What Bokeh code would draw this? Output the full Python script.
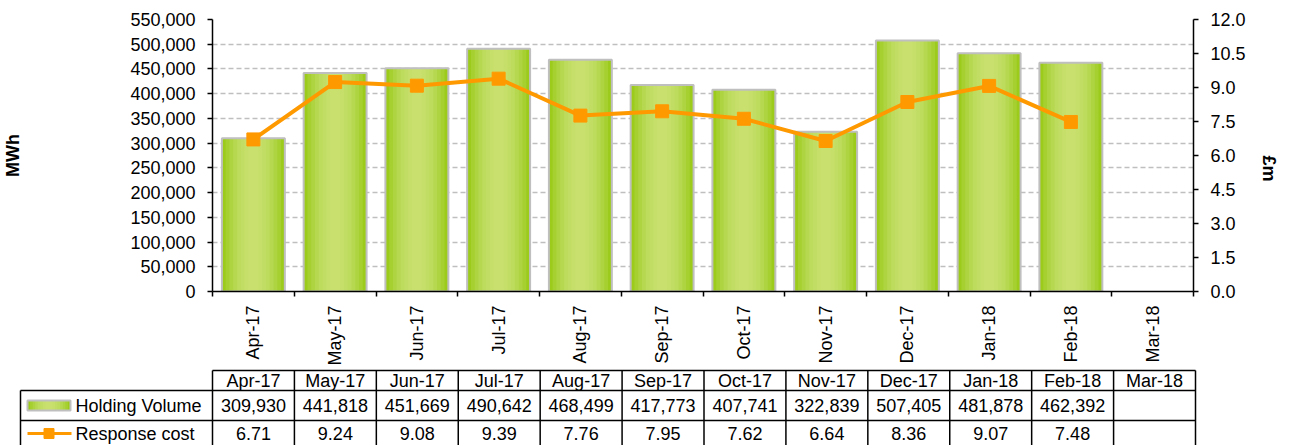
import numpy as np
from bokeh.plotting import figure
from bokeh.models import Range1d, LinearAxis, FixedTicker, NumeralTickFormatter, Grid, ColumnDataSource
from bokeh.core.properties import value
from bokeh.embed import file_html
from bokeh.resources import INLINE

# ---------------- data ----------------
months = ["Apr-17", "May-17", "Jun-17", "Jul-17", "Aug-17", "Sep-17",
          "Oct-17", "Nov-17", "Dec-17", "Jan-18", "Feb-18", "Mar-18"]
holding_volume = [309930, 441818, 451669, 490642, 468499, 417773,
                  407741, 322839, 507405, 481878, 462392, None]
response_cost = [6.71, 9.24, 9.08, 9.39, 7.76, 7.95,
                 7.62, 6.64, 8.36, 9.07, 7.48, None]
mwh_ticks = [0, 50000, 100000, 150000, 200000, 250000, 300000,
             350000, 400000, 450000, 500000, 550000]
cost_ticks = [0.0, 1.5, 3.0, 4.5, 6.0, 7.5, 9.0, 10.5, 12.0]
series_names = ["Holding Volume", "Response cost"]

# ---------------- style ----------------
FONT = "Liberation Sans"
FS = "18px"
W = 1291
TOP_H = 368
FL, FR, FT, FB = 212, 96, 19, 77
ORANGE = "#FF9900"
BORDER = "#BFBFBF"
grad = [(1.00, "#9CCB1C"), (0.88, "#A5D02F"), (0.76, "#AED442"), (0.64, "#B6D851"),
        (0.52, "#BDDB5C"), (0.40, "#C2DD64"), (0.28, "#C6DF6A"), (0.16, "#C9E06F")]
BAR_W = 0.77

n = len(months)
centers = [i + 0.5 for i in range(n)]
bounds = list(range(n + 1))

bar_x = [c for c, v in zip(centers, holding_volume) if v is not None]
bar_top = [v for v in holding_volume if v is not None]
line_x = [c for c, v in zip(centers, response_cost) if v is not None]
line_y = [v for v in response_cost if v is not None]

# ---------------- main chart ----------------
p = figure(width=W, height=TOP_H, x_range=Range1d(0, n), y_range=Range1d(mwh_ticks[0], mwh_ticks[-1]),
           output_backend="svg", toolbar_location=None,
           min_border_left=FL, min_border_right=FR, min_border_top=FT, min_border_bottom=FB,
           x_axis_type=None, y_axis_type=None, outline_line_color=None)
p.extra_y_ranges = {"cost": Range1d(cost_ticks[0], cost_ticks[-1])}

axis_common = dict(axis_line_color="black", axis_line_width=1.5,
                   major_tick_line_color="black", major_tick_line_width=1.5,
                   minor_tick_line_color="black", minor_tick_line_width=1.5,
                   major_label_text_font=FONT, major_label_text_font_size=FS,
                   major_label_text_color="black",
                   axis_label_text_font=FONT, axis_label_text_font_size=FS,
                   axis_label_text_font_style="bold", axis_label_text_color="black")

yl = LinearAxis(ticker=FixedTicker(ticks=mwh_ticks), formatter=NumeralTickFormatter(format="0,0"),
                axis_label="MWh", axis_label_standoff=104,
                major_tick_out=5, major_tick_in=0, minor_tick_out=0, minor_tick_in=0,
                major_label_standoff=12, **axis_common)
p.add_layout(yl, "left")

yr = LinearAxis(y_range_name="cost", ticker=FixedTicker(ticks=cost_ticks),
                formatter=NumeralTickFormatter(format="0.0"),
                axis_label="£m", axis_label_standoff=20, axis_label_orientation=-np.pi / 2,
                major_tick_out=5, major_tick_in=0, minor_tick_out=0, minor_tick_in=0,
                major_label_standoff=12, **axis_common)
p.add_layout(yr, "right")

xb = LinearAxis(ticker=FixedTicker(ticks=centers, minor_ticks=bounds),
                major_label_overrides={c: m for c, m in zip(centers, months)},
                major_label_orientation=np.pi / 2,
                major_tick_out=0, major_tick_in=0, minor_tick_out=5, minor_tick_in=0,
                major_label_standoff=9, **axis_common)
p.add_layout(xb, "below")

p.add_layout(Grid(dimension=1, ticker=FixedTicker(ticks=mwh_ticks[1:]),
                  grid_line_color=BORDER, grid_line_dash="5 3", grid_line_width=1.5))

src = ColumnDataSource(dict(x=bar_x, top=bar_top))
for f, col in grad:
    p.vbar(x="x", top="top", bottom=0, width=BAR_W * f, source=src,
           fill_color=col, line_color=None)
p.vbar(x="x", top="top", bottom=0, width=BAR_W, source=src,
       fill_color=None, line_color=BORDER, line_width=2)

p.line(line_x, line_y, y_range_name="cost", line_color=ORANGE, line_width=4)
p.scatter(line_x, line_y, y_range_name="cost", marker="square", size=13,
          fill_color=ORANGE, line_color=ORANGE)

# ---------------- data table ----------------
TH = 445 - TOP_H
u = (W - FL - FR) / n  # pixels per category


def cx(px):
    """figure-pixel x -> category units"""
    return (px - FL) / u


t = figure(width=W, height=TH, x_range=Range1d(cx(0), cx(W)), y_range=Range1d(TH, 0),
           output_backend="svg", toolbar_location=None,
           min_border_left=0, min_border_right=0, min_border_top=0, min_border_bottom=0,
           x_axis_type=None, y_axis_type=None, outline_line_color=None)

y_head_top, y_head_bot, y_r1_bot, y_r2_bot = 2, 22, 52, 84
y_head_c, y_r1_c, y_r2_c = 12, 37, 65
left_edge = cx(20)

t.segment(x0=[0, left_edge, left_edge], x1=[n, n, n],
          y0=[y_head_top, y_head_bot, y_r1_bot], y1=[y_head_top, y_head_bot, y_r1_bot],
          line_color="black", line_width=1.5)
t.segment(x0=bounds, x1=bounds, y0=[y_head_top] * len(bounds), y1=[y_r2_bot] * len(bounds),
          line_color="black", line_width=1.5)
t.segment(x0=[left_edge], x1=[left_edge], y0=[y_head_bot], y1=[y_r2_bot],
          line_color="black", line_width=1.5)

txt = dict(text_font=value(FONT), text_font_size=FS, text_color="black", text_baseline="middle")
t.text(x=centers, y=[y_head_c] * n, text=months, text_align="center", **txt)
t.text(x=centers, y=[y_r1_c] * n,
       text=["{:,}".format(v) if v is not None else "" for v in holding_volume],
       text_align="center", **txt)
t.text(x=centers, y=[y_r2_c] * n,
       text=["{:.2f}".format(v) if v is not None else "" for v in response_cost],
       text_align="center", **txt)
t.text(x=[cx(75), cx(75)], y=[y_r1_c, y_r2_c], text=series_names, text_align="left", **txt)

sw_x = cx(48.5)
for f, col in grad:
    t.rect(x=[sw_x], y=[y_r1_c], width=43 * f, height=10, width_units="screen",
           fill_color=col, line_color=None)
t.rect(x=[sw_x], y=[y_r1_c], width=43, height=10, width_units="screen",
       fill_color=None, line_color=BORDER, line_width=2)
t.segment(x0=[cx(27)], x1=[cx(71)], y0=[y_r2_c], y1=[y_r2_c], line_color=ORANGE, line_width=3)
t.scatter(x=[sw_x], y=[y_r2_c], marker="square", size=10, fill_color=ORANGE, line_color=ORANGE)

open("out.html", "w").write(file_html([p, t], INLINE))
